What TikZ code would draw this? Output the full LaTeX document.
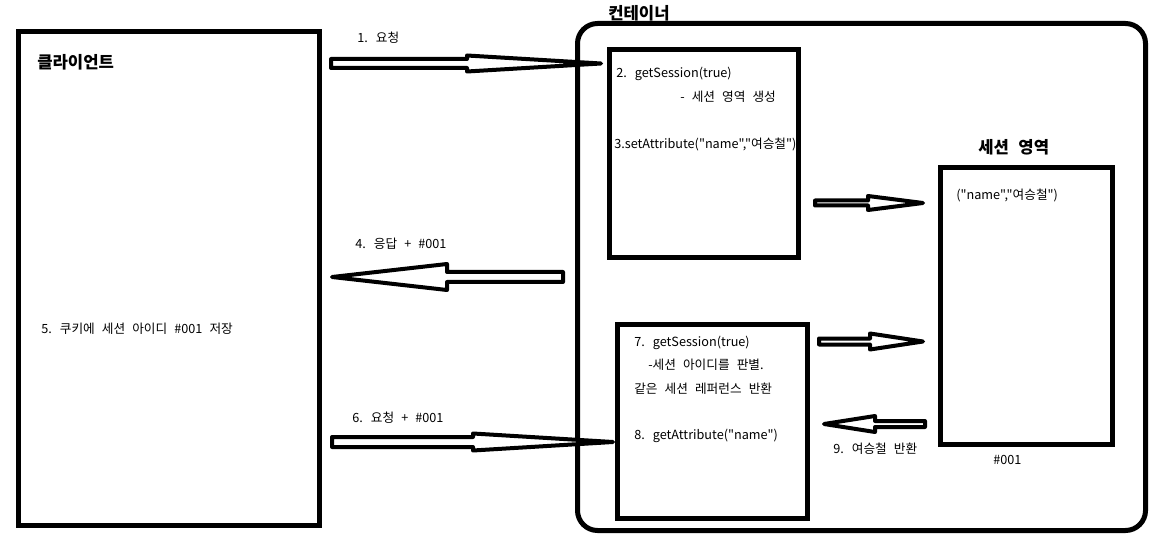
\documentclass[tikz,border=0pt]{standalone}
\usepackage{fontspec}
\setmainfont{Noto Sans CJK KR}[Ligatures=TeXOff,WordSpace=2.5]
\usetikzlibrary{calc}

% hollow block arrow: tail, tip, head length, shaft half width, head half width
\newcommand{\blockarrow}[5]{%
  \draw[barrow] ($(#1)+(0,#4)$) -- ($(#2)!#3!(#1)+(0,#4)$) -- ($(#2)!#3!(#1)+(0,#5)$)
  -- (#2) -- ($(#2)!#3!(#1)-(0,#5)$) -- ($(#2)!#3!(#1)-(0,#4)$) -- ($(#1)-(0,#4)$) -- cycle;}

\begin{document}
\begin{tikzpicture}[x=0.75pt,y=0.75pt,yscale=-1,xscale=1,
  box/.style={line width=3.75pt},
  barrow/.style={line width=3pt,line join=round,fill=white},
  lbl/.style={anchor=west,inner sep=0pt,font=\fontsize{9.5}{12}\selectfont},
  ttl/.style={anchor=west,inner sep=0pt,font=\fontsize{12.5}{15}\selectfont\bfseries}]
  \useasboundingbox (0,0) rectangle (1162,541);

  %Client
  \draw[box] (18.5,31.5) rectangle (319.5,525.5);
  %Container
  \draw[box,rounded corners=15pt] (577.5,23.5) rectangle (1145.5,530.5);
  %getSession / setAttribute box
  \draw[box] (609.5,50) rectangle (798,257.5);
  %getSession / getAttribute box
  \draw[box] (617.5,324) rectangle (807.5,518);
  %Session area
  \draw[box] (940,167.5) rectangle (1112,444);

  % arrow ends
  \coordinate (req tail) at (331,63.5);
  \coordinate (req tip) at (601,63.5);
  \coordinate (resp tail) at (563,277);
  \coordinate (resp tip) at (332,277);
  \coordinate (req2 tail) at (332,442);
  \coordinate (req2 tip) at (613,442);
  \coordinate (set tail) at (815,203);
  \coordinate (set tip) at (923,203);
  \coordinate (get tail) at (819,341.5);
  \coordinate (get tip) at (923,341.5);
  \coordinate (ret tail) at (925,424);
  \coordinate (ret tip) at (824,424);

  \blockarrow{req tail}{req tip}{100.5pt}{4.5}{8}
  \blockarrow{resp tail}{resp tip}{86.25pt}{5}{13}
  \blockarrow{req2 tail}{req2 tip}{105pt}{5}{8.5}
  \blockarrow{set tail}{set tip}{41.25pt}{2.5}{7}
  \blockarrow{get tail}{get tip}{39.75pt}{3}{8}
  \blockarrow{ret tail}{ret tip}{38.25pt}{3}{8}

  % Text Nodes
  \node[ttl] (container) at (608,13) {컨테이너};
  \node[ttl] (client) at (37,62) {클라이언트};
  \node[ttl] (area) at (978,147) {세션 영역};
  \node[lbl] (step1) at (357,38) {1. 요청};
  \node[lbl] (step4) at (355,244) {4. 응답 + \#001};
  \node[lbl] (step5) at (41,329) {5. 쿠키에 세션 아이디 \#001 저장};
  \node[lbl] (step6) at (352,418) {6. 요청 + \#001};
  \node[lbl] (step2) at (616,74) {2. getSession(true)};
  \node[lbl] (step2b) at (680,97) {- 세션 영역 생성};
  \node[lbl] (step3) at (614,144) {3.setAttribute("name","여승철")};
  \node[lbl] (attr) at (956,195) {("name","여승철")};
  \node[lbl] (sid) at (993,460) {\#001};
  \node[lbl] (step7) at (634,343) {7. getSession(true)};
  \node[lbl] (step7b) at (648,365) {-세션 아이디를 판별.};
  \node[lbl] (step7c) at (634,389) {같은 세션 레퍼런스 반환};
  \node[lbl] (step8) at (634,436) {8. getAttribute("name")};
  \node[lbl] (step9) at (833,449) {9. 여승철 반환};

\end{tikzpicture}
\end{document}
